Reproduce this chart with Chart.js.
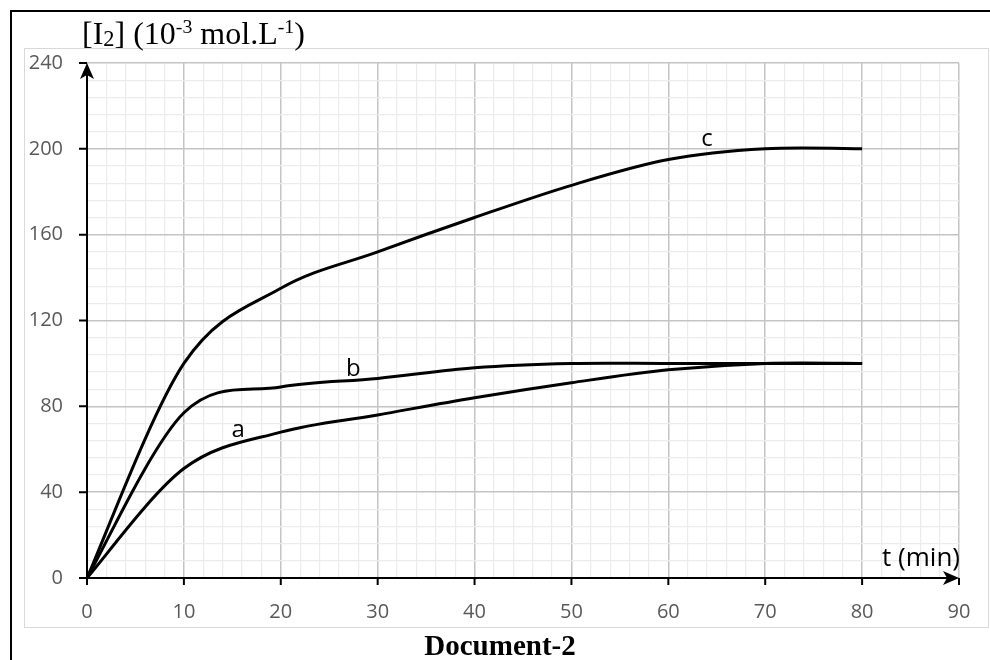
<!DOCTYPE html>
<html>
<head>
<meta charset="utf-8">
<script src="https://cdn.jsdelivr.net/npm/chart.js@4.4.1/dist/chart.umd.min.js"></script>
<style>
  html, body { margin: 0; padding: 0; background: #fff; }
  #wrap { position: relative; width: 990px; height: 660px; overflow: hidden; }
  #frame { position: absolute; left: 10px; top: 10px; width: 2000px; height: 2000px;
           border-left: 2px solid #000; border-top: 2px solid #000; }
  #box { position: absolute; left: 24px; top: 48px; width: 963px; height: 578px;
         border: 1px solid #d9d9d9; }
  #chart { position: absolute; left: 0; top: 0; }
  #title { position: absolute; left: 82px; top: 17px; font: 32px "Liberation Serif", serif;
           line-height: 32px; white-space: nowrap; color: #000; }
  #title sub, #title sup { line-height: 0; }
  #title sub { font-size: 0.7em; vertical-align: -0.1em; }
  #title sup { font-size: 0.62em; vertical-align: 0.55em; }
  #doc { position: absolute; left: 0; width: 1000px; top: 631px; text-align: center;
         font: bold 29px "Liberation Serif", serif; line-height: 29px; color: #000; }
</style>
</head>
<body>
<div id="wrap">
  <div id="frame"></div>
  <div id="box"></div>
  <canvas id="chart" width="990" height="660"></canvas>
  <div id="title">[I<sub>2</sub>] (10<sup>-3</sup> mol.L<sup>-1</sup>)</div>
  <div id="doc">Document-2</div>
</div>
<script>
// temps (min) et concentrations
const times = [0, 10, 20, 30, 40, 50, 60, 70, 80];
const curveA = [0, 51, 68, 76, 84, 91, 97, 100, 100];
const curveB = [0, 77, 89, 93, 98, 100, 100, 100, 100];
const curveC = [0, 100, 135, 152, 168, 183, 195, 200, 200];

const xMajorTicks = [0, 10, 20, 30, 40, 50, 60, 70, 80, 90];
const yMajorTicks = [0, 40, 80, 120, 160, 200, 240];
const X_MAX = 90;
const Y_MAX = 240;

// position des lettres a, b, c (en unités du graphe)
const curveLabels = [
  { text: 'a', t: 15.6, v: 65.5 },
  { text: 'b', t: 27.5, v: 94 },
  { text: 'c', t: 64, v: 201.5 }
];

const toPoints = (vals) => times.map((t, i) => ({ x: t, y: vals[i] }));

const makeSet = (label, vals) => ({
  label: label,
  data: toPoints(vals),
  borderColor: '#000',
  borderWidth: 3,
  pointRadius: 0,
  fill: false,
  tension: 0.33
});

// lissage façon Excel : points de contrôle symétriques (P(i+1) - P(i-1)) / 6
const excelSmooth = {
  id: 'excelSmooth',
  beforeDatasetDraw(chart, args) {
    const line = args.meta.dataset;
    const pts = args.meta.data;
    line.updateControlPoints(chart.chartArea, 'x');
    for (let i = 0; i < pts.length; i++) {
      const p = pts[i];
      const prev = pts[i - 1] || p;
      const next = pts[i + 1] || p;
      const dx = (next.x - prev.x) / 6;
      const dy = (next.y - prev.y) / 6;
      p.cp1x = p.x - dx; p.cp1y = p.y - dy;
      p.cp2x = p.x + dx; p.cp2y = p.y + dy;
    }
    delete line._path;
  }
};

// axes noirs avec flèches + graduations
const arrowAxes = {
  id: 'arrowAxes',
  beforeDatasetsDraw(chart) {
    const { ctx, scales: { x, y } } = chart;
    const x0 = x.getPixelForValue(0);
    const xEnd = x.getPixelForValue(X_MAX);
    const y0 = y.getPixelForValue(0);
    const yEnd = y.getPixelForValue(Y_MAX);
    ctx.save();
    ctx.strokeStyle = '#000';
    ctx.fillStyle = '#000';
    ctx.lineWidth = 2;
    ctx.beginPath();
    ctx.moveTo(x0 - 8, y0);
    ctx.lineTo(xEnd - 4, y0);
    ctx.moveTo(x0, y0 + 7);
    ctx.lineTo(x0, yEnd + 4);
    xMajorTicks.forEach(v => {
      const px = x.getPixelForValue(v);
      ctx.moveTo(px, y0);
      ctx.lineTo(px, y0 + 7);
    });
    yMajorTicks.forEach(v => {
      const py = y.getPixelForValue(v);
      ctx.moveTo(x0 - 8, py);
      ctx.lineTo(x0, py);
    });
    ctx.stroke();

    // pointes de flèches
    ctx.beginPath();
    ctx.moveTo(x0, yEnd);
    ctx.lineTo(x0 - 7, yEnd + 16);
    ctx.lineTo(x0, yEnd + 12);
    ctx.lineTo(x0 + 7, yEnd + 16);
    ctx.closePath();
    ctx.moveTo(xEnd, y0);
    ctx.lineTo(xEnd - 16, y0 - 7);
    ctx.lineTo(xEnd - 12, y0);
    ctx.lineTo(xEnd - 16, y0 + 7);
    ctx.closePath();
    ctx.fill();
    ctx.restore();
  },
  afterDatasetsDraw(chart) {
    const { ctx, scales: { x, y } } = chart;
    ctx.save();
    ctx.fillStyle = '#000';
    ctx.font = '24px "Open Sans"';
    ctx.textBaseline = 'alphabetic';
    ctx.textAlign = 'center';
    curveLabels.forEach(l => {
      ctx.fillText(l.text, x.getPixelForValue(l.t), y.getPixelForValue(l.v));
    });
    // titre de l'axe des abscisses
    ctx.font = '26px "Open Sans"';
    ctx.textAlign = 'right';
    ctx.fillText('t (min)', x.getPixelForValue(X_MAX) + 1, y.getPixelForValue(0) - 12);
    ctx.restore();
  }
};

new Chart(document.getElementById('chart'), {
  type: 'line',
  data: {
    datasets: [makeSet('a', curveA), makeSet('b', curveB), makeSet('c', curveC)]
  },
  options: {
    responsive: false,
    animation: false,
    layout: { padding: { left: 0, right: 31, top: 63, bottom: 0 } },
    plugins: {
      legend: { display: false },
      tooltip: { enabled: false }
    },
    scales: {
      x: {
        type: 'linear',
        min: 0,
        max: X_MAX,
        afterFit: (scale) => {
          scale.height = 82;
          scale.paddingLeft = 0;
          scale.paddingRight = 0;
        },
        border: { display: false },
        grid: {
          drawTicks: false,
          color: (c) => (c.tick.value % 10 === 0 ? '#c4c4c4' : '#ececec'),
          lineWidth: (c) => (c.tick.value % 10 === 0 ? 1.5 : 1.2)
        },
        ticks: {
          stepSize: 2,
          autoSkip: false,
          maxRotation: 0,
          padding: 22,
          color: '#595959',
          font: { family: 'Open Sans', size: 20 },
          callback: (v) => (v % 10 === 0 ? v : '')
        }
      },
      y: {
        min: 0,
        max: Y_MAX,
        afterFit: (scale) => {
          scale.width = 87;
          scale.paddingTop = 0;
          scale.paddingBottom = 0;
        },
        border: { display: false },
        grid: {
          drawTicks: false,
          color: (c) => (c.tick.value % 40 === 0 ? '#c4c4c4' : '#ececec'),
          lineWidth: (c) => (c.tick.value % 40 === 0 ? 1.5 : 1.2)
        },
        ticks: {
          stepSize: 8,
          autoSkip: false,
          padding: 24,
          color: '#595959',
          font: { family: 'Open Sans', size: 20 },
          callback: (v) => (v % 40 === 0 ? v : '')
        }
      }
    }
  },
  plugins: [excelSmooth, arrowAxes]
});
</script>
</body>
</html>
